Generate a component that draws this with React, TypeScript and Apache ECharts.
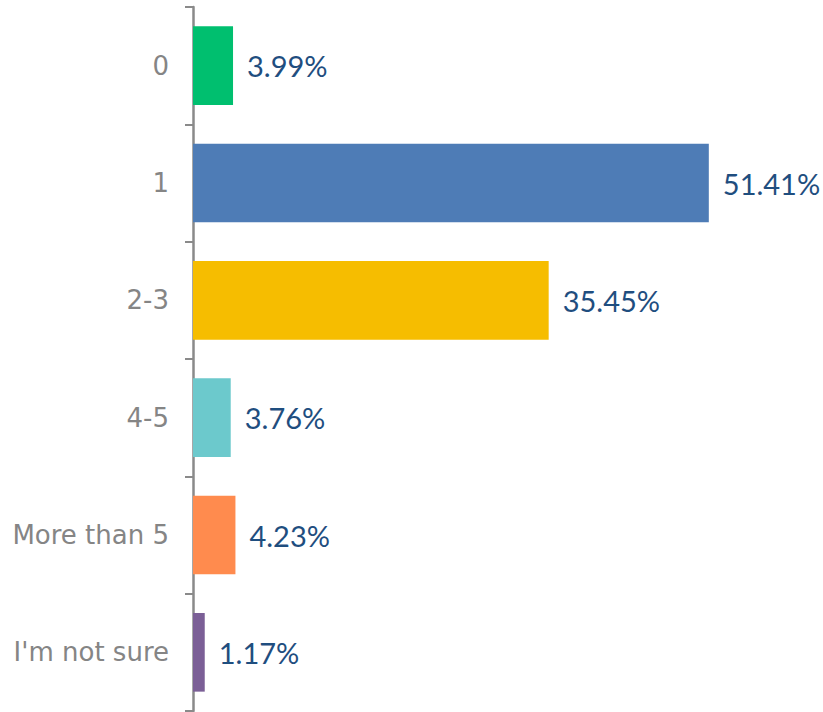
import React, { useEffect, useRef } from "react";
import * as echarts from "echarts";

const categories = ["0", "1", "2-3", "4-5", "More than 5", "I'm not sure"];
const values = [3.99, 51.41, 35.45, 3.76, 4.23, 1.17];
const colors = ["#00BF6F", "#4E7CB6", "#F6BD00", "#6CC9CC", "#FF8B4E", "#7B5F96"];

export default function App() {
  const ref = useRef<HTMLDivElement>(null);
  useEffect(() => {
    const chart = echarts.init(ref.current!, null, { renderer: "svg" });
    chart.setOption({
      animation: false,
      grid: { left: 193, top: 7, width: 602, height: 704, containLabel: false },
      xAxis: {
        type: "value",
        min: 0,
        max: 60,
        show: false,
      },
      yAxis: {
        type: "category",
        inverse: true,
        data: categories,
        axisLine: { show: true, lineStyle: { color: "#8A8A8A", width: 2.5 } },
        axisTick: { show: true, length: 8, lineStyle: { color: "#8A8A8A", width: 2 } },
        axisLabel: {
          color: "#858585",
          fontSize: 26,
          fontFamily: "'DejaVu Sans', sans-serif",
          margin: 24,
        },
      },
      series: [
        {
          type: "bar",
          data: values.map((v, i) => ({ value: v, itemStyle: { color: colors[i] } })),
          barWidth: "67%",
          label: {
            show: true,
            position: "right",
            distance: 14,
            color: "#1F4E7F",
            fontSize: 29,
            fontFamily: "Lato, sans-serif",
            formatter: (p: any) => p.value.toFixed(2) + "%",
          },
        },
      ],
    });
    return () => chart.dispose();
  }, []);
  return <div ref={ref} style={{ width: 823, height: 712, position: "absolute", left: 0, top: 0 }} />;
}
